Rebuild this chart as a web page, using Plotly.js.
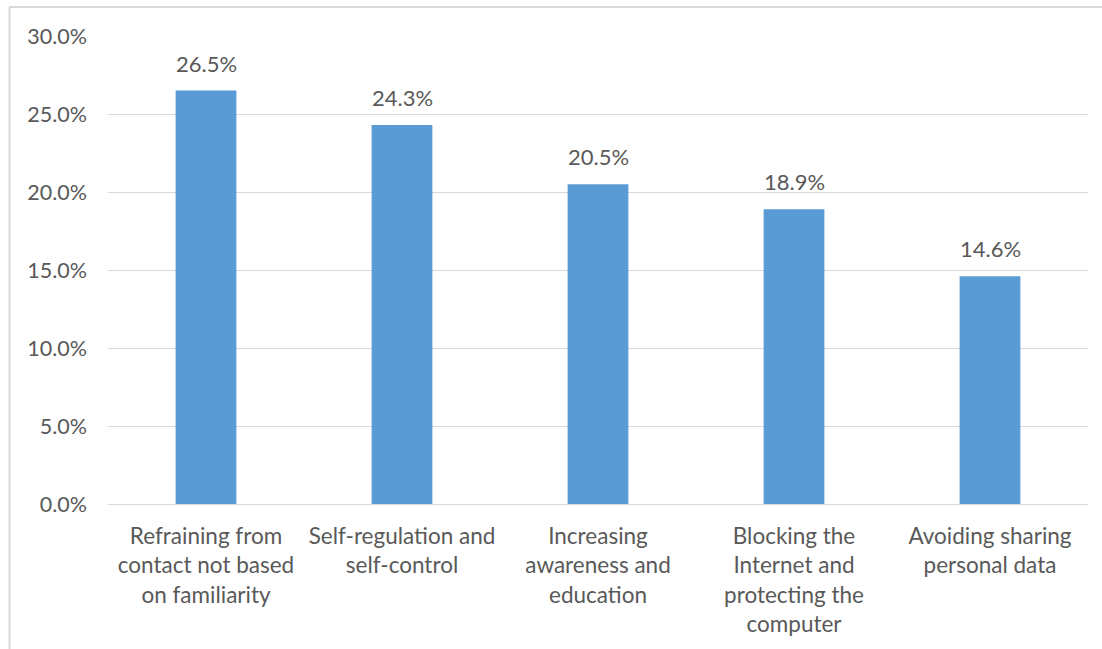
<!DOCTYPE html>
<html>
<head>
<meta charset="utf-8">
<script src="https://cdn.plot.ly/plotly-3.0.1.min.js"></script>
<style>
  html, body { margin: 0; padding: 0; background: #fff; }
  #chart { width: 1102px; height: 649px; }
</style>
</head>
<body>
<div id="chart"></div>
<script>
const categories = [
  "Refraining from<br>contact not based<br>on familiarity",
  "Self-regulation and<br>self-control",
  "Increasing<br>awareness and<br>education",
  "Blocking the<br>Internet and<br>protecting the<br>computer",
  "Avoiding sharing<br>personal data"
];
const values = [26.5, 24.3, 20.5, 18.9, 14.6];
const yTickVals = [0, 5, 10, 15, 20, 25, 30];
const yTickText = ["0.0%", "5.0%", "10.0%", "15.0%", "20.0%", "25.0%", "30.0%"];

const textColor = "#595959";
const fontFamily = "Lato, 'Open Sans', sans-serif";

const trace = {
  type: "bar",
  x: categories,
  y: values,
  marker: { color: "#5B9BD5" },
  width: 0.31,
  hoverinfo: "none"
};

const annotations = categories.map((c, i) => ({
  x: c,
  y: values[i],
  xref: "x",
  yref: "y",
  text: values[i].toFixed(1) + "%",
  showarrow: false,
  yanchor: "bottom",
  yshift: 12,
  font: { family: fontFamily, size: 22, color: textColor }
}));

const layout = {
  width: 1102,
  height: 649,
  margin: { l: 108, r: 14, t: 36, b: 145, pad: 0 },
  paper_bgcolor: "#ffffff",
  plot_bgcolor: "#ffffff",
  showlegend: false,
  bargap: 0.69,
  font: { family: fontFamily, color: textColor, size: 22 },
  xaxis: {
    type: "category",
    showgrid: false,
    zeroline: false,
    showline: true,
    linecolor: "#d9d9d9",
    linewidth: 1,
    ticks: "",
    ticklabelstandoff: 12,
    tickfont: { family: fontFamily, size: 22.5, color: textColor },
    fixedrange: true
  },
  yaxis: {
    range: [0, 30],
    tickvals: yTickVals,
    ticktext: yTickText,
    showgrid: true,
    gridcolor: "#d9d9d9",
    gridwidth: 1,
    zeroline: false,
    showline: false,
    ticks: "",
    ticklabelstandoff: 20,
    tickfont: { family: fontFamily, size: 21.5, color: textColor },
    fixedrange: true
  },
  annotations: annotations,
  shapes: [
    { type: "line", xref: "paper", yref: "paper",
      x0: (9.5 - 108) / 980, x1: 1.02, y0: (504 - 7) / 468, y1: (504 - 7) / 468,
      line: { color: "#d9d9d9", width: 2 } },
    { type: "line", xref: "paper", yref: "paper",
      x0: (9.5 - 108) / 980, x1: (9.5 - 108) / 980, y0: (504 - 7) / 468, y1: -0.32,
      line: { color: "#d9d9d9", width: 2 } }
  ]
};

Plotly.newPlot("chart", [trace], layout, { displayModeBar: false, staticPlot: true });
</script>
</body>
</html>
